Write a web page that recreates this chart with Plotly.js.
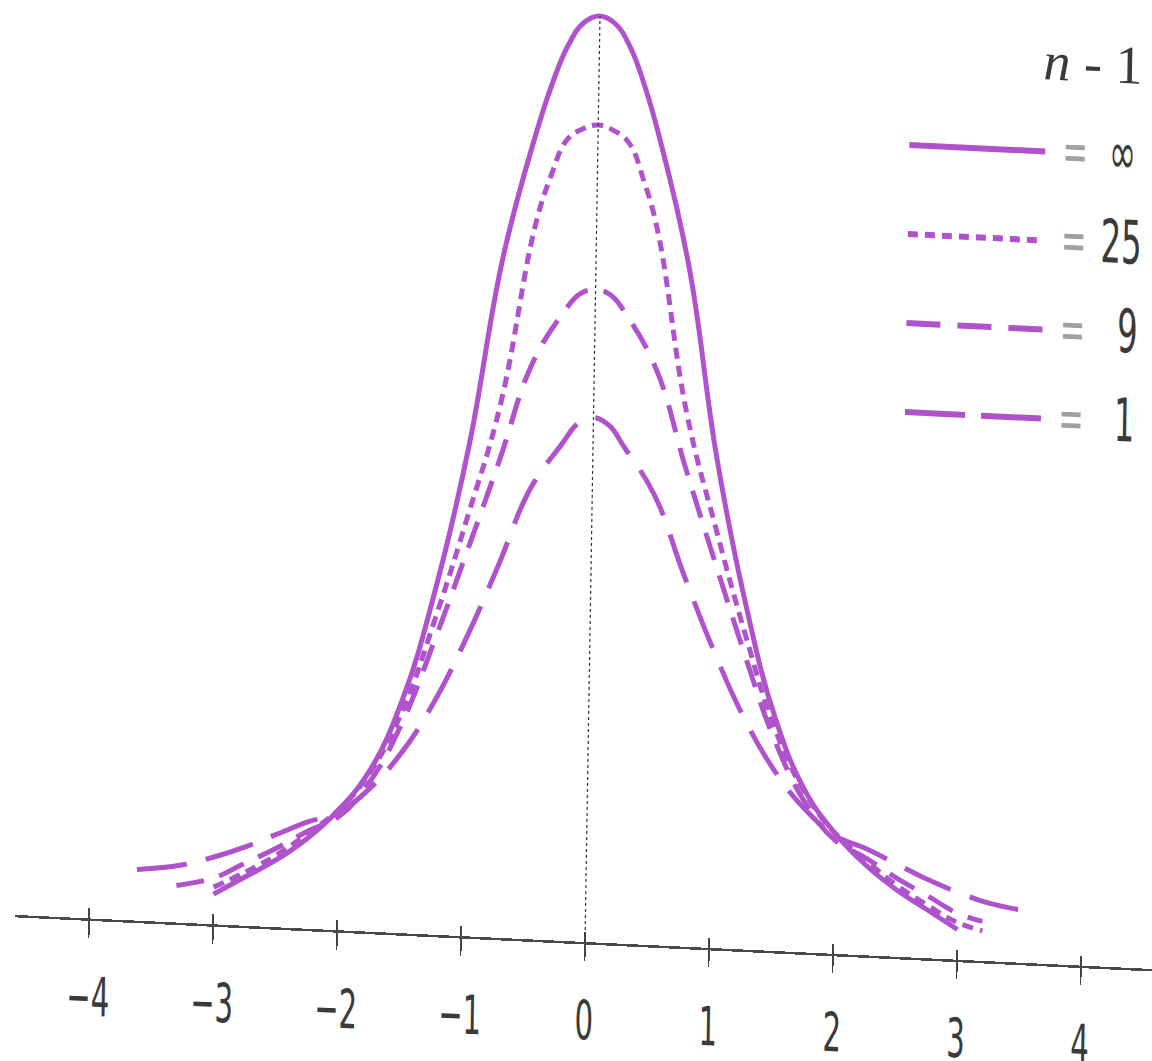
<!DOCTYPE html>
<html>
<head>
<meta charset="utf-8">
<script src="https://cdn.plot.ly/plotly-3.0.1.min.js"></script>
<style>
  html, body { margin: 0; padding: 0; background: #ffffff; overflow: hidden; }
  #plot { width: 1152px; height: 1061px;
          transform: matrix(1, 0.0476, -0.0162, 1, 0, 0);
          transform-origin: 585px 942px; }
</style>
</head>
<body>
<div id="plot"></div>
<script>
// ---- data ----
const tickVals   = [-4, -3, -2, -1, 0, 1, 2, 3, 4];
const tickLabels = ['\u22124', '\u22123', '\u22122', '\u22121', '0', '1', '2', '3', '4'];
const dfLabels   = ['\u221E', '25', '9', '1'];
const legendTitle = '<i>n</i> - 1';

const xInf = [-3,-2.75,-2.5,-2.25,-2,-1.75,-1.5,-1.25,-1,-0.75,-0.5,-0.375,-0.25,-0.125,0,0.125,0.25,0.375,0.5,0.75,1,1.25,1.5,1.75,2,2.25,2.5,2.75,3];
const yInf = [0.013,0.021,0.029,0.039,0.052,0.070,0.101,0.149,0.211,0.293,0.347,0.369,0.386,0.396,0.399,0.396,0.386,0.369,0.347,0.293,0.211,0.149,0.101,0.070,0.052,0.039,0.029,0.021,0.013];

const x25 = [-3,-2.75,-2.5,-2.25,-2,-1.75,-1.5,-1.25,-1,-0.75,-0.5,-0.375,-0.25,-0.125,0,0.125,0.25,0.375,0.5,0.75,1,1.25,1.5,1.75,2,2.25,2.5,2.75,3,3.2];
const y25 = [0.016,0.023,0.031,0.041,0.052,0.069,0.096,0.136,0.181,0.230,0.306,0.329,0.345,0.350,0.352,0.350,0.345,0.329,0.306,0.230,0.181,0.136,0.096,0.069,0.052,0.041,0.031,0.023,0.016,0.013];

const x9 = [-3.3,-3,-2.75,-2.5,-2.25,-2,-1.75,-1.5,-1.25,-1,-0.75,-0.5,-0.25,-0.125,0,0.125,0.25,0.5,0.75,1,1.25,1.5,1.75,2,2.25,2.5,2.75,3,3.2];
const y9 = [0.016,0.020,0.027,0.034,0.042,0.049,0.065,0.091,0.127,0.166,0.206,0.248,0.271,0.279,0.281,0.279,0.271,0.248,0.206,0.166,0.127,0.091,0.065,0.049,0.042,0.034,0.027,0.020,0.017];

const x1 = [-3.62,-3.25,-3,-2.75,-2.5,-2.25,-2,-1.75,-1.5,-1.25,-1,-0.75,-0.5,-0.25,-0.125,0,0.125,0.25,0.5,0.75,1,1.25,1.5,1.75,2,2.25,2.5,2.75,3,3.25,3.62];
const y1 = [0.022,0.025,0.029,0.034,0.040,0.046,0.051,0.062,0.078,0.100,0.128,0.160,0.194,0.214,0.223,0.226,0.223,0.214,0.194,0.160,0.128,0.100,0.078,0.062,0.051,0.046,0.040,0.034,0.029,0.025,0.022];

// ---- styles ----
const curveColor = '#b052cc';
const dashes = ['solid', '11px,7px', '28px,16px', '50px,20px'];
const legendDashes = ['solid', '10px,7px', '34px,17px', '60px,16px'];
const condensed = '"Liberation Sans Narrow", "DejaVu Sans Condensed", "Liberation Sans", sans-serif';
const textColor = '#3a3a3a';

const series = [[xInf, yInf], [x25, y25], [x9, y9], [x1, y1]];

const traces = series.map((s, i) => ({
  type: 'scatter', mode: 'lines', x: s[0], y: s[1],
  line: { color: curveColor, width: 5, dash: dashes[i], shape: 'spline', smoothing: 1.2 },
  hoverinfo: 'skip', name: dfLabels[i]
})).reverse();

// invisible trace on the overlay axis (upper half of the crossing ticks)
traces.push({ type: 'scatter', mode: 'none', x: tickVals, y: tickVals.map(() => 0),
  xaxis: 'x2', yaxis: 'y', hoverinfo: 'skip', showlegend: false });

const peak = Math.max.apply(null, yInf);
const xRange = [-4.597, 4.573];

const shapes = [{
  type: 'line', xref: 'x', yref: 'y', x0: 0, x1: 0, y0: 0, y1: peak,
  line: { color: '#333333', width: 1.2, dash: 'dot' }, layer: 'above'
}];

const legTop = 0.871, legStep = 0.0955;
const annotations = [{
  text: legendTitle, xref: 'paper', yref: 'paper', x: 0.935, y: 0.968,
  xanchor: 'center', yanchor: 'middle', showarrow: false,
  font: { family: '"Liberation Serif", "DejaVu Serif", serif', size: 54, color: textColor }
}];
const valueX = [0.963, 0.963, 0.969, 0.9675];
dfLabels.forEach((lab, i) => {
  const y = legTop - i * legStep;
  shapes.push({
    type: 'line', xref: 'paper', yref: 'paper', x0: 0.775, x1: 0.8946, y0: y, y1: y,
    line: { color: curveColor, width: 6, dash: legendDashes[i] }
  });
  annotations.push({
    text: '=', xref: 'paper', yref: 'paper', x: 0.921, y: y + 0.002,
    xanchor: 'center', yanchor: 'middle', showarrow: false,
    font: { family: condensed, size: 56, color: '#a0a0a0' }
  });
  annotations.push({
    text: lab, xref: 'paper', yref: 'paper', x: valueX[i], y: y + 0.002,
    xanchor: 'center', yanchor: 'middle', showarrow: false,
    font: { family: condensed, size: 60, color: textColor }
  });
});

const layout = {
  width: 1152, height: 1061,
  margin: { l: 15, r: 0, t: 10, b: 119, pad: 0 },
  paper_bgcolor: '#ffffff', plot_bgcolor: 'rgba(0,0,0,0)',
  showlegend: false,
  xaxis: {
    range: xRange, tickvals: tickVals, ticktext: tickLabels,
    ticks: 'outside', ticklen: 17, tickwidth: 1.5, tickcolor: '#444444',
    showline: true, linecolor: '#4a4a4a', linewidth: 2.5,
    showgrid: false, zeroline: false, fixedrange: true,
    tickfont: { family: condensed, size: 54, color: textColor },
    ticklabelstandoff: 13
  },
  xaxis2: {
    range: xRange, overlaying: 'x', anchor: 'y', side: 'bottom',
    tickvals: tickVals, ticks: 'inside', ticklen: 10, tickwidth: 1.5, tickcolor: '#444444',
    showticklabels: false, showline: false, showgrid: false, zeroline: false, fixedrange: true
  },
  yaxis: { range: [0, 0.4016], visible: false, fixedrange: true },
  shapes: shapes,
  annotations: annotations
};

// narrow the condensed lettering horizontally around each text's own centre
function condense(el) {
  const bb = el.getBBox();
  const cx = bb.x + bb.width / 2;
  const t = el.getAttribute('transform') || '';
  el.setAttribute('transform', t + ' translate(' + cx + ',0) scale(0.6,1) translate(' + (-cx) + ',0)');
}

Plotly.newPlot('plot', traces, layout, { staticPlot: true, displayModeBar: false }).then(() => {
  document.querySelectorAll('.xtick text').forEach(condense);
  document.querySelectorAll('g.annotation').forEach(g => {
    if (g.getAttribute('data-index') !== '0') {
      g.querySelectorAll('text').forEach(condense);
    }
  });
});
</script>
</body>
</html>
